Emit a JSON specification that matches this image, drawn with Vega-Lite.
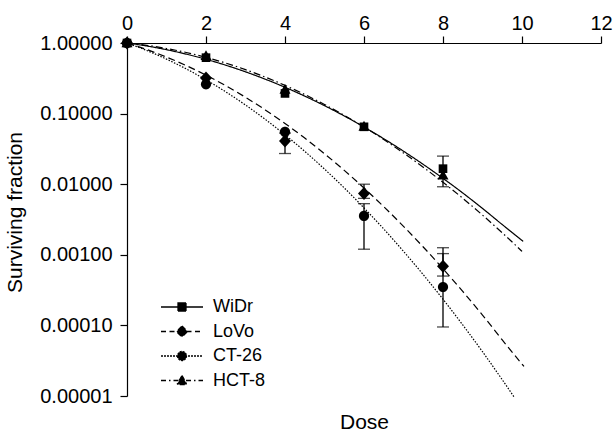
{
  "$schema": "https://vega.github.io/schema/vega-lite/v6.json",
  "width": 474,
  "height": 353,
  "autosize": {"type": "none"},
  "padding": {"left": 127, "top": 43, "right": 13, "bottom": 35},
  "config": {
    "font": "Liberation Sans",
    "view": {"stroke": null},
    "axis": {
      "domainColor": "black", "domainWidth": 1.2, "tickColor": "black", "tickWidth": 1.2, "tickSize": 7,
      "labelColor": "black", "labelFontSize": 20, "titleFontSize": 21, "titleFontWeight": "normal",
      "titleColor": "black", "grid": false, "labelFont": "Liberation Sans", "titleFont": "Liberation Sans",
      "labelOverlap": false, "labelFlush": false
    },
    "axisY": {"labelPadding": 8},
    "axisX": {"labelPadding": 3},
    "legend": {
      "orient": "none", "legendX": 46, "legendY": 255, "padding": 0, "title": null,
      "symbolSize": 100, "labelFontSize": 18, "labelColor": "black", "labelFont": "Liberation Sans",
      "labelOffset": 22, "rowPadding": 6.5
    }
  },
  "datasets": {
    "curves": [
      {"series": "WiDr", "dose": 0, "sf": 1}, {"series": "WiDr", "dose": 0.5, "sf": 0.9074}, {"series": "WiDr", "dose": 1, "sf": 0.804}, {"series": "WiDr", "dose": 1.5, "sf": 0.6957}, {"series": "WiDr", "dose": 2, "sf": 0.5879}, {"series": "WiDr", "dose": 2.5, "sf": 0.4848}, {"series": "WiDr", "dose": 3, "sf": 0.3906}, {"series": "WiDr", "dose": 3.5, "sf": 0.3072}, {"series": "WiDr", "dose": 4, "sf": 0.2359}, {"series": "WiDr", "dose": 4.5, "sf": 0.1769}, {"series": "WiDr", "dose": 5, "sf": 0.1296}, {"series": "WiDr", "dose": 5.5, "sf": 0.0926}, {"series": "WiDr", "dose": 6, "sf": 0.0647}, {"series": "WiDr", "dose": 6.5, "sf": 0.0441}, {"series": "WiDr", "dose": 7, "sf": 0.02936}, {"series": "WiDr", "dose": 7.5, "sf": 0.01908}, {"series": "WiDr", "dose": 8, "sf": 0.01211}, {"series": "WiDr", "dose": 8.5, "sf": 0.00751}, {"series": "WiDr", "dose": 9, "sf": 0.00454}, {"series": "WiDr", "dose": 9.5, "sf": 0.00268}, {"series": "WiDr", "dose": 10.03, "sf": 0.00155},
      {"series": "LoVo", "dose": 0, "sf": 1}, {"series": "LoVo", "dose": 0.5, "sf": 0.8085}, {"series": "LoVo", "dose": 1, "sf": 0.6324}, {"series": "LoVo", "dose": 1.5, "sf": 0.4786}, {"series": "LoVo", "dose": 2, "sf": 0.3505}, {"series": "LoVo", "dose": 2.5, "sf": 0.2483}, {"series": "LoVo", "dose": 3, "sf": 0.1703}, {"series": "LoVo", "dose": 3.5, "sf": 0.1129}, {"series": "LoVo", "dose": 4, "sf": 0.0725}, {"series": "LoVo", "dose": 4.5, "sf": 0.045}, {"series": "LoVo", "dose": 5, "sf": 0.027}, {"series": "LoVo", "dose": 5.5, "sf": 0.0157}, {"series": "LoVo", "dose": 6, "sf": 0.00883}, {"series": "LoVo", "dose": 6.5, "sf": 0.00481}, {"series": "LoVo", "dose": 7, "sf": 0.00253}, {"series": "LoVo", "dose": 7.5, "sf": 0.00129}, {"series": "LoVo", "dose": 8, "sf": 0.000635}, {"series": "LoVo", "dose": 8.5, "sf": 0.000303}, {"series": "LoVo", "dose": 9, "sf": 0.00014}, {"series": "LoVo", "dose": 9.5, "sf": 0.0000623}, {"series": "LoVo", "dose": 10.05, "sf": 0.0000262},
      {"series": "CT-26", "dose": 0, "sf": 1}, {"series": "CT-26", "dose": 0.5, "sf": 0.783}, {"series": "CT-26", "dose": 1, "sf": 0.591}, {"series": "CT-26", "dose": 1.5, "sf": 0.4296}, {"series": "CT-26", "dose": 2, "sf": 0.301}, {"series": "CT-26", "dose": 2.5, "sf": 0.2033}, {"series": "CT-26", "dose": 3, "sf": 0.1323}, {"series": "CT-26", "dose": 3.5, "sf": 0.0829}, {"series": "CT-26", "dose": 4, "sf": 0.0501}, {"series": "CT-26", "dose": 4.5, "sf": 0.0292}, {"series": "CT-26", "dose": 5, "sf": 0.01637}, {"series": "CT-26", "dose": 5.5, "sf": 0.00886}, {"series": "CT-26", "dose": 6, "sf": 0.00461}, {"series": "CT-26", "dose": 6.5, "sf": 0.00232}, {"series": "CT-26", "dose": 7, "sf": 0.00112}, {"series": "CT-26", "dose": 7.5, "sf": 0.000523}, {"series": "CT-26", "dose": 8, "sf": 0.000235}, {"series": "CT-26", "dose": 8.5, "sf": 0.0001016}, {"series": "CT-26", "dose": 9, "sf": 0.0000424}, {"series": "CT-26", "dose": 9.5, "sf": 0.000017}, {"series": "CT-26", "dose": 9.8, "sf": 0.0000097},
      {"series": "HCT-8", "dose": 0, "sf": 1}, {"series": "HCT-8", "dose": 0.5, "sf": 0.9275}, {"series": "HCT-8", "dose": 1, "sf": 0.8366}, {"series": "HCT-8", "dose": 1.5, "sf": 0.734}, {"series": "HCT-8", "dose": 2, "sf": 0.6262}, {"series": "HCT-8", "dose": 2.5, "sf": 0.5195}, {"series": "HCT-8", "dose": 3, "sf": 0.4193}, {"series": "HCT-8", "dose": 3.5, "sf": 0.329}, {"series": "HCT-8", "dose": 4, "sf": 0.2512}, {"series": "HCT-8", "dose": 4.5, "sf": 0.1865}, {"series": "HCT-8", "dose": 5, "sf": 0.1346}, {"series": "HCT-8", "dose": 5.5, "sf": 0.0946}, {"series": "HCT-8", "dose": 6, "sf": 0.0646}, {"series": "HCT-8", "dose": 6.5, "sf": 0.0429}, {"series": "HCT-8", "dose": 7, "sf": 0.0277}, {"series": "HCT-8", "dose": 7.5, "sf": 0.0174}, {"series": "HCT-8", "dose": 8, "sf": 0.01063}, {"series": "HCT-8", "dose": 8.5, "sf": 0.00632}, {"series": "HCT-8", "dose": 9, "sf": 0.00365}, {"series": "HCT-8", "dose": 9.5, "sf": 0.00205}, {"series": "HCT-8", "dose": 10, "sf": 0.00112}
    ],
    "points": [
      {"series": "WiDr", "dose": 0, "sf": 1}, {"series": "WiDr", "dose": 2, "sf": 0.62}, {"series": "WiDr", "dose": 4, "sf": 0.193}, {"series": "WiDr", "dose": 6, "sf": 0.065}, {"series": "WiDr", "dose": 8, "sf": 0.0166},
      {"series": "LoVo", "dose": 0, "sf": 1}, {"series": "LoVo", "dose": 2, "sf": 0.32}, {"series": "LoVo", "dose": 4, "sf": 0.041}, {"series": "LoVo", "dose": 6, "sf": 0.0074}, {"series": "LoVo", "dose": 8, "sf": 0.00069},
      {"series": "CT-26", "dose": 0, "sf": 1}, {"series": "CT-26", "dose": 2, "sf": 0.26}, {"series": "CT-26", "dose": 4, "sf": 0.055}, {"series": "CT-26", "dose": 6, "sf": 0.00355}, {"series": "CT-26", "dose": 8, "sf": 0.00035},
      {"series": "HCT-8", "dose": 0, "sf": 1}, {"series": "HCT-8", "dose": 2, "sf": 0.66}, {"series": "HCT-8", "dose": 4, "sf": 0.22}, {"series": "HCT-8", "dose": 6, "sf": 0.066}, {"series": "HCT-8", "dose": 8, "sf": 0.0134}
    ],
    "errors": [
      {"series": "WiDr", "dose": 8, "lo": 0.0092, "hi": 0.025},
      {"series": "LoVo", "dose": 4, "lo": 0.0272, "hi": 0.053},
      {"series": "LoVo", "dose": 6, "lo": 0.0063, "hi": 0.01},
      {"series": "LoVo", "dose": 8, "lo": 0.0005, "hi": 0.00126},
      {"series": "CT-26", "dose": 6, "lo": 0.0012, "hi": 0.0053},
      {"series": "CT-26", "dose": 8, "lo": 0.000095, "hi": 0.00104}
    ]
  },
  "encoding": {
    "x": {
      "field": "dose", "type": "quantitative",
      "scale": {"domain": [0, 12], "nice": false, "zero": false},
      "axis": {"orient": "top", "values": [0, 2, 4, 6, 8, 10, 12], "format": "d", "title": "Dose", "titleY": 385, "titleBaseline": "alphabetic"}
    }
  },
  "layer": [
    {
      "data": {"name": "curves"},
      "mark": {"type": "line", "color": "black", "strokeWidth": 1.2, "interpolate": "monotone"},
      "encoding": {
        "y": {"field": "sf", "type": "quantitative", "scale": {"type": "log", "domain": [0.00001, 1], "nice": false},
          "axis": {"values": [1, 0.1, 0.01, 0.001, 0.0001, 0.00001], "format": ".5f", "title": "Surviving fraction", "titleX": -112, "titleY": 169, "titleBaseline": "middle"}},
        "strokeDash": {"field": "series", "type": "nominal",
          "scale": {"domain": ["CT-26", "WiDr", "LoVo", "HCT-8"], "range": [[1.5, 1.5], [1, 0], [7, 4], [7, 3, 1.5, 3]]},
          "legend": null}
      }
    },
    {
      "data": {"name": "errors"},
      "mark": {"type": "errorbar", "color": "black", "thickness": 1.3, "ticks": {"size": 12}},
      "encoding": {
        "y": {"field": "lo", "type": "quantitative", "scale": {"type": "log", "domain": [0.00001, 1], "nice": false},
          "axis": {"values": [1, 0.1, 0.01, 0.001, 0.0001, 0.00001], "format": ".5f", "title": "Surviving fraction", "titleX": -112, "titleY": 169, "titleBaseline": "middle"}},
        "y2": {"field": "hi"}
      }
    },
    {
      "data": {"name": "points"},
      "mark": {"type": "point", "filled": true, "opacity": 1, "size": 144, "strokeWidth": 0},
      "encoding": {
        "y": {"field": "sf", "type": "quantitative", "scale": {"type": "log", "domain": [0.00001, 1], "nice": false},
          "axis": {"values": [1, 0.1, 0.01, 0.001, 0.0001, 0.00001], "format": ".5f", "title": "Surviving fraction", "titleX": -112, "titleY": 169, "titleBaseline": "middle"}},
        "shape": {"field": "series", "type": "nominal",
          "scale": {"domain": ["LoVo", "WiDr", "CT-26", "HCT-8"], "range": ["M0,-1.08L1,0L0,1.08L-1,0Z", "M-0.72,-0.72H0.72V0.72H-0.72Z", "M-0.85,0A0.85,0.85,0,1,0,0.85,0A0.85,0.85,0,1,0,-0.85,0Z", "M0,-0.92L0.92,0.72H-0.92Z"]},
          "legend": null},
        "color": {"field": "series", "type": "nominal",
          "scale": {"domain": ["WiDr", "LoVo", "CT-26", "HCT-8"], "range": ["black", "black", "black", "black"]},
          "legend": {
            "encoding": {
              "symbols": {
                "shape": {"value": {"expr": "datum.value === 'WiDr' ? 'M-4.2,0H4.2M-0.8,-0.8H0.8V0.8H-0.8Z' : datum.value === 'LoVo' ? 'M-4.2,0H4.2M0,-1.1L1.1,0L0,1.1L-1.1,0Z' : datum.value === 'CT-26' ? 'M-4.2,0H4.2M-0.9,0A0.9,0.9,0,1,0,0.9,0A0.9,0.9,0,1,0,-0.9,0Z' : 'M-4.2,0H4.2M0,-1L1,0.8H-1Z'"}},
                "strokeDash": {"value": {"expr": "datum.value === 'WiDr' ? [1,0] : datum.value === 'LoVo' ? [5,3.5] : datum.value === 'CT-26' ? [2,1] : [5,3,1.5,3]"}},
                "stroke": {"value": "black"},
                "strokeWidth": {"value": 1.3},
                "size": {"value": 100},
                "opacity": {"value": 1},
                "fillOpacity": {"value": 1},
                "strokeOpacity": {"value": 1}
              }
            }
          }
        }
      }
    }
  ]
}
